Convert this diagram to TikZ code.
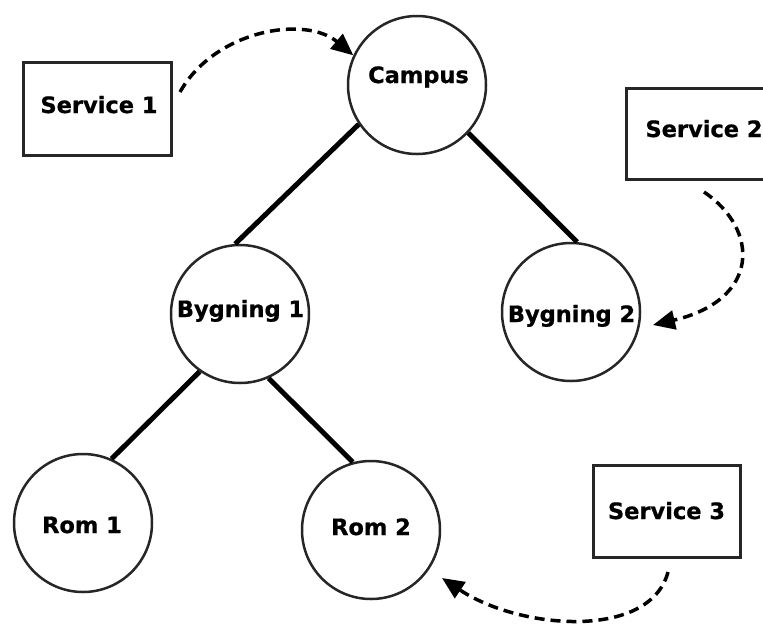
\documentclass[tikz,border=0pt]{standalone}
\usepackage{fontspec}
\setmainfont{DejaVu Sans}
\newfontfamily\lblfont{DejaVu Sans Bold}[FakeBold=0.8]
\usetikzlibrary{arrows.meta}
\begin{document}
\begin{tikzpicture}[x=1pt,y=-1pt,
  circ/.style={circle,draw=black!85,line width=2.5pt,minimum size=138pt,inner sep=0pt},
  sbox/.style={rectangle,draw=black!85,line width=3pt,inner sep=0pt},
  lbl/.style={anchor=base,font=\fontsize{22.5}{27}\lblfont,inner sep=0pt},
  tree/.style={line width=5pt},
  svc/.style={dash pattern=on 10pt off 6pt,line width=3.5pt,-{Triangle[length=22pt,width=19pt]}}]
\useasboundingbox (0,0) rectangle (763,625);
% circles
\node[circ] (campus) at (417,85) {};
\node[circ] (byg1) at (240,314) {};
\node[circ] (byg2) at (571,312) {};
\node[circ] (rom1) at (83,523) {};
\node[circ] (rom2) at (371,530) {};
% service boxes
\node[sbox,minimum width=148pt,minimum height=93pt] (s1) at (97,108.5) {};
\node[sbox,minimum width=152pt,minimum height=91pt] (s2) at (702,133.5) {};
\node[sbox,minimum width=147pt,minimum height=92pt] (s3) at (666.5,511) {};
% labels
\node[lbl] (tcampus) at (418.5,83) {Campus};
\node[lbl] (tbyg1) at (240.5,317) {Bygning 1};
\node[lbl] (tbyg2) at (571.5,322) {Bygning 2};
\node[lbl] (trom1) at (82,533) {Rom 1};
\node[lbl] (trom2) at (371,535) {Rom 2};
\node[lbl] (ts1) at (99,113) {Service 1};
\node[lbl] (ts2) at (704,137) {Service 2};
\node[lbl] (ts3) at (666.5,519) {Service 3};
% tree connectors
\draw[tree] (campus.214) -- (byg1.94);
\draw[tree] (campus.317) -- (byg2.85);
\draw[tree] (byg1.235) -- (rom1.66);
\draw[tree] (byg1.294) -- (rom2.105);
% service connectors
\coordinate (s1o) at (180,92);
\coordinate (s2o) at (704,192);
\coordinate (b2i) at (653,325);
\coordinate (s3o) at (668,572);
\coordinate (r2i) at (442,578);
\draw[svc] (s1o) .. controls (215,30) and (305,15) .. (campus.155);
\draw[svc] (s2o) .. controls (760,230) and (760,300) .. (b2i);
\draw[svc] (s3o) .. controls (650,640) and (520,630) .. (r2i);
\end{tikzpicture}
\end{document}
